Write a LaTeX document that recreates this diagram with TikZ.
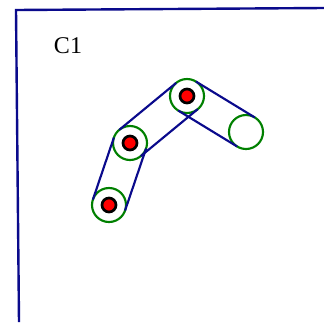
\documentclass[tikz,border=0pt]{standalone}
\usepackage{fontspec}
\setmainfont{Liberation Serif}
\usepackage{xcolor}
\usetikzlibrary{calc}

\definecolor{navy}{RGB}{10,10,140}
\definecolor{jointgreen}{RGB}{0,128,0}

\begin{document}
\begin{tikzpicture}[x=0.75pt, y=-0.75pt,
    frame/.style={draw=navy, line width=1.8pt},
    link/.style={draw=navy, line width=1.6pt},
    joint/.style={circle, draw=jointgreen, line width=1.6pt, minimum size=25.5pt, inner sep=0pt},
    pin/.style={circle, draw=black, fill=red, line width=2pt, minimum size=10.5pt, inner sep=0pt}]
  \useasboundingbox (0,0) rectangle (324,322);
  % corner of the frame
  \draw[frame] (19,322) -- (16,10) -- (324,8);
  \node[font=\fontsize{18}{21}\selectfont] (c1) at (68,46) {C1};
  % joints of the chain
  \node[joint] (j1) at (109,205) {};
  \node[joint] (j2) at (130,143) {};
  \node[joint] (j3) at (187,96) {};
  \node[joint] (j4) at (246,132) {};
  % links between the joints
  \draw[link] ($(j1.center)!12.75pt!90:(j2.center)$) -- ($(j2.center)!12.75pt!-90:(j1.center)$);
  \draw[link] ($(j1.center)!12.75pt!-90:(j2.center)$) -- ($(j2.center)!12.75pt!90:(j1.center)$);
  \draw[link] ($(j2.center)!12.75pt!90:(j3.center)$) -- ($(j3.center)!12.75pt!-90:(j2.center)$);
  \draw[link] ($(j2.center)!12.75pt!-90:(j3.center)$) -- ($(j3.center)!12.75pt!90:(j2.center)$);
  \draw[link] ($(j3.center)!12.75pt!90:(j4.center)$) -- ($(j4.center)!12.75pt!-90:(j3.center)$);
  \draw[link] ($(j3.center)!12.75pt!-90:(j4.center)$) -- ($(j4.center)!12.75pt!90:(j3.center)$);
  % pins in the first three joints
  \node[pin] (p1) at (j1) {};
  \node[pin] (p2) at (j2) {};
  \node[pin] (p3) at (j3) {};
\end{tikzpicture}
\end{document}
